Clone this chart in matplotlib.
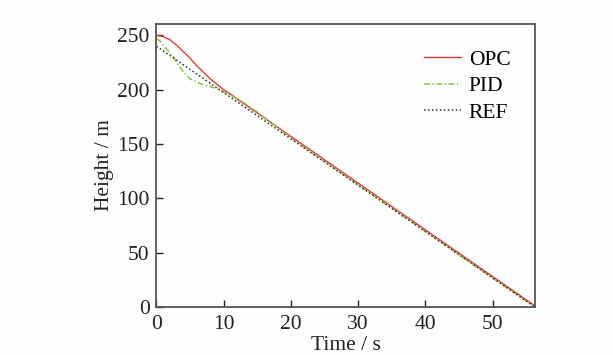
import numpy as np
import matplotlib
matplotlib.use("Agg")
import matplotlib.pyplot as plt

plt.rcParams['font.family'] = ['Liberation Serif', 'DejaVu Serif']
plt.rcParams['mathtext.fontset'] = 'stix'

# OPC
opc_t = [0, 1, 2, 3, 4, 5, 6, 7, 8, 9, 10, 11, 12, 15, 20, 25, 30, 35, 40, 45, 50, 56.3]
opc_h = [250, 249, 246, 241, 235, 229, 222, 216, 210, 205, 200, 196, 191.5, 178.5, 157, 135.5, 114, 92.5, 71, 49.5, 28, 1]
# PID
pid_t = [0, 0.5, 1, 2, 2.5, 3, 4, 5, 6, 7, 9, 11, 13, 15, 20, 30, 40, 50, 56.3]
pid_h = [247, 245, 241, 234, 230.5, 225, 216.5, 210, 207, 204.5, 201, 195, 188, 179.5, 155.5, 112.5, 69.5, 26.5, 0]
# REF
ref_t = [0, 56.3]
ref_h = [240, 0]

fig = plt.figure(figsize=(6.13, 3.55), dpi=100, facecolor='#fdfdfd')
ax = fig.add_axes([156.5/613, 1 - 307/355, (535 - 156.5)/613, (307 - 24)/355])
ax.set_facecolor('#fdfdfd')

ax.plot(opc_t, opc_h, color='#e8383d', lw=1.0, label='OPC')
ax.plot(pid_t, pid_h, color='#8cc63e', lw=1.1, ls=(0, (4, 1.5, 1, 1.5)), label='PID')
ax.plot(ref_t, ref_h, color='#333333', lw=1.1, ls=(0, (1, 1.6)), label='REF')

ax.set_xlim(0, 56.3)
ax.set_ylim(0, 260.5)
ax.set_xticks([0, 10, 20, 30, 40, 50])
ax.set_yticks([0, 50, 100, 150, 200, 250])
ax.tick_params(direction='in', length=5, width=1, labelsize=15.5, colors='#222222',
               top=False, right=False)
ax.tick_params(axis='x', pad=6)
ax.tick_params(axis='y', pad=5)
for s in ax.spines.values():
    s.set_color('#555555')
    s.set_linewidth(1.3)

ax.set_xlabel('Time / s', fontsize=15.5, labelpad=1.5, color='#222222')
ax.set_ylabel('Height / m', fontsize=15.5, labelpad=2, color='#222222')

leg = ax.legend(loc='upper right', bbox_to_anchor=(0.958, 0.94), frameon=False,
                fontsize=15.5, handlelength=1.75, handletextpad=0.35, labelspacing=0.3,
                borderaxespad=0)

fig.savefig('out.png', dpi=100, facecolor=fig.get_facecolor())
